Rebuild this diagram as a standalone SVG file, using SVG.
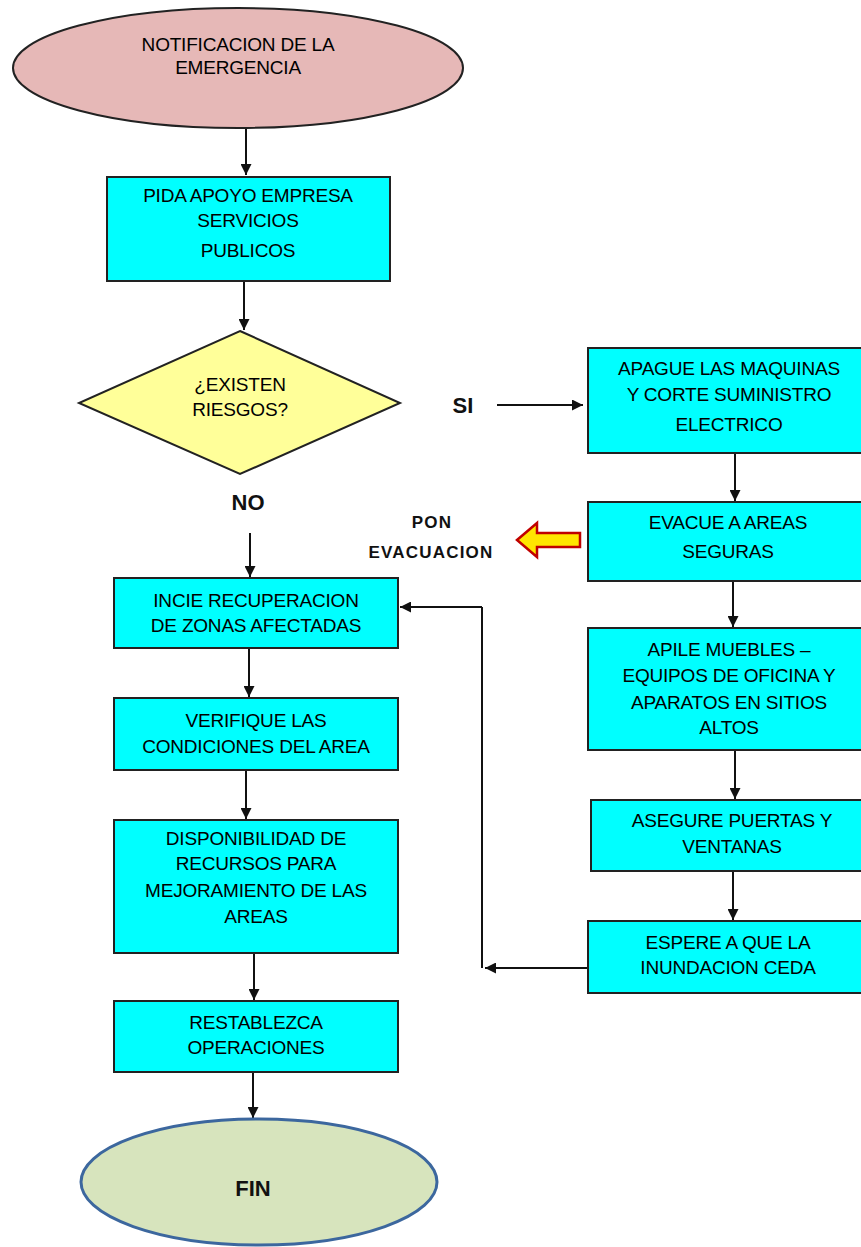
<svg xmlns="http://www.w3.org/2000/svg" width="861" height="1247" viewBox="0 0 861 1247">
<defs>
<marker id="ah" viewBox="0 0 10 10" refX="10" refY="5" markerWidth="11" markerHeight="11" markerUnits="userSpaceOnUse" orient="auto">
<path d="M0,0 L10,5 L0,10 Z" fill="#111"/>
</marker>
</defs>
<style>
.box{fill:#00FFFF;stroke:#222;stroke-width:2}
.t{font-family:"Liberation Sans",Arial,sans-serif;font-size:19px;fill:#000;text-anchor:middle;letter-spacing:-0.2px}
.b{font-family:"Liberation Sans",Arial,sans-serif;font-weight:bold;fill:#111;text-anchor:middle}
.c{stroke:#111;stroke-width:2;fill:none}
</style>
<rect width="861" height="1247" fill="#fff"/>

<g id="connectors">
<line class="c" x1="246" y1="128" x2="246" y2="175" marker-end="url(#ah)"/>
<line class="c" x1="244" y1="281" x2="244" y2="330" marker-end="url(#ah)"/>
<line class="c" x1="497" y1="405" x2="583" y2="405" marker-end="url(#ah)"/>
<line class="c" x1="250" y1="533" x2="250" y2="577" marker-end="url(#ah)"/>
<line class="c" x1="735" y1="453" x2="735" y2="501" marker-end="url(#ah)"/>
<line class="c" x1="733" y1="581" x2="733" y2="627" marker-end="url(#ah)"/>
<line class="c" x1="735" y1="750" x2="735" y2="799" marker-end="url(#ah)"/>
<line class="c" x1="733" y1="871" x2="733" y2="920" marker-end="url(#ah)"/>
<line class="c" x1="588" y1="968" x2="485" y2="968" marker-end="url(#ah)"/>
<line class="c" x1="482" y1="968" x2="482" y2="607"/>
<line class="c" x1="482" y1="607" x2="400" y2="607" marker-end="url(#ah)"/>
<line class="c" x1="249" y1="648" x2="249" y2="697" marker-end="url(#ah)"/>
<line class="c" x1="246" y1="770" x2="246" y2="819" marker-end="url(#ah)"/>
<line class="c" x1="254" y1="953" x2="254" y2="1000" marker-end="url(#ah)"/>
<line class="c" x1="253" y1="1072" x2="253" y2="1118" marker-end="url(#ah)"/>
<polygon points="517,540 537,523 537,533 580,533 580,547 537,547 537,557" fill="#FFE600" stroke="#C00000" stroke-width="2.5" stroke-linejoin="miter"/>
</g>

<g id="n-notificacion">
<ellipse cx="238" cy="68" rx="225" ry="60" fill="#E6B8B7" stroke="#222" stroke-width="2"/>
<text class="t" x="238" y="51">NOTIFICACION DE LA</text>
<text class="t" x="238" y="74">EMERGENCIA</text>
</g>

<g id="n-pida">
<rect class="box" x="107" y="177" width="283" height="104"/>
<text class="t" x="248" y="202">PIDA APOYO EMPRESA</text>
<text class="t" x="248" y="227">SERVICIOS</text>
<text class="t" x="248" y="257">PUBLICOS</text>
</g>

<g id="n-existen">
<polygon points="240,331 400,403 240,474 79,403" fill="#FFFF99" stroke="#222" stroke-width="2"/>
<text class="t" x="240" y="391">¿EXISTEN</text>
<text class="t" x="240" y="416">RIESGOS?</text>
</g>

<g id="l-si"><text class="b" x="463" y="413" font-size="22">SI</text></g>
<g id="l-no"><text class="b" x="248" y="510" font-size="22">NO</text></g>
<g id="l-pon">
<text class="b" x="432" y="528" font-size="17" letter-spacing="1.2">PON</text>
<text class="b" x="431" y="558" font-size="17" letter-spacing="1.2">EVACUACION</text>
</g>

<g id="n-apague">
<rect class="box" x="588" y="348" width="280" height="105"/>
<text class="t" x="729" y="375">APAGUE LAS MAQUINAS</text>
<text class="t" x="729" y="401">Y CORTE SUMINISTRO</text>
<text class="t" x="729" y="431">ELECTRICO</text>
</g>

<g id="n-evacue">
<rect class="box" x="588" y="502" width="280" height="79"/>
<text class="t" x="728" y="529">EVACUE A AREAS</text>
<text class="t" x="728" y="558">SEGURAS</text>
</g>

<g id="n-apile">
<rect class="box" x="588" y="628" width="280" height="122"/>
<text class="t" x="729" y="656">APILE MUEBLES –</text>
<text class="t" x="729" y="682">EQUIPOS DE OFICINA Y</text>
<text class="t" x="729" y="709">APARATOS EN SITIOS</text>
<text class="t" x="729" y="734">ALTOS</text>
</g>

<g id="n-asegure">
<rect class="box" x="591" y="800" width="277" height="71"/>
<text class="t" x="732" y="827">ASEGURE PUERTAS Y</text>
<text class="t" x="732" y="853">VENTANAS</text>
</g>

<g id="n-espere">
<rect class="box" x="588" y="921" width="280" height="72"/>
<text class="t" x="728" y="949">ESPERE A QUE LA</text>
<text class="t" x="728" y="974">INUNDACION CEDA</text>
</g>

<g id="n-incie">
<rect class="box" x="114" y="578" width="284" height="70"/>
<text class="t" x="256" y="607">INCIE RECUPERACION</text>
<text class="t" x="256" y="632">DE ZONAS AFECTADAS</text>
</g>

<g id="n-verifique">
<rect class="box" x="114" y="698" width="284" height="72"/>
<text class="t" x="256" y="727">VERIFIQUE LAS</text>
<text class="t" x="256" y="753">CONDICIONES DEL AREA</text>
</g>

<g id="n-disponibilidad">
<rect class="box" x="114" y="820" width="284" height="133"/>
<text class="t" x="256" y="845">DISPONIBILIDAD DE</text>
<text class="t" x="256" y="870">RECURSOS PARA</text>
<text class="t" x="256" y="897">MEJORAMIENTO DE LAS</text>
<text class="t" x="256" y="923">AREAS</text>
</g>

<g id="n-restablezca">
<rect class="box" x="114" y="1001" width="284" height="71"/>
<text class="t" x="256" y="1029">RESTABLEZCA</text>
<text class="t" x="256" y="1054">OPERACIONES</text>
</g>

<g id="n-fin">
<ellipse cx="259" cy="1182" rx="178" ry="63" fill="#D7E4BD" stroke="#3C679E" stroke-width="3"/>
<text class="b" x="253" y="1196" font-size="22">FIN</text>
</g>
</svg>
